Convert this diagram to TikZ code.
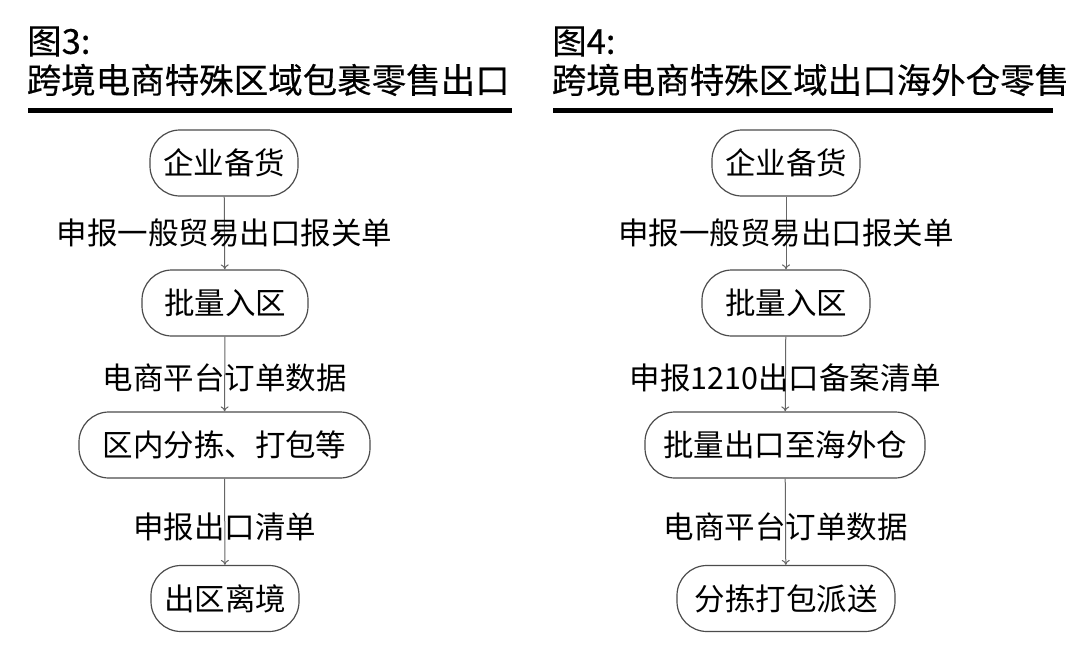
\documentclass[tikz,border=0pt]{standalone}
\usepackage{fontspec}
\setmainfont{Noto Sans CJK SC}
\newfontfamily\titlefont{Noto Sans CJK SC}[FakeBold=0.3]
\usetikzlibrary{arrows.meta}

\tikzset{
  stage/.style={draw=black!70, line width=1.2pt, rounded corners=30pt,
                minimum height=66pt, inner sep=0pt,
                font=\fontsize{30.5}{32}\selectfont},
  flow/.style={draw=black!60, line width=1pt, -{To[length=5pt,width=8pt]}},
  note/.style={inner sep=0pt, font=\fontsize{30.5}{32}\selectfont},
  heading/.style={anchor=west, inner sep=0pt, font=\titlefont\fontsize{34.5}{38}\selectfont},
}

\begin{document}
\begin{tikzpicture}[x=1pt,y=-1pt]
\useasboundingbox[fill=white] (0,0) rectangle (1080,653);

% left figure
\node[heading] (t3a) at (27,41.5) {图3:};
\node[heading] (t3b) at (26.5,80) {跨境电商特殊区域包裹零售出口};
\draw[line width=5pt] (28,110.5) -- (512,110.5);

\node[stage, minimum width=148pt] (l1) at (224,163) {企业备货};
\node[stage, minimum width=166pt] (l2) at (225,303) {批量入区};
\node[stage, minimum width=291pt] (l3) at (224.5,445) {区内分拣、打包等};
\node[stage, minimum width=148pt] (l4) at (225,598.5) {出区离境};

\draw[flow] (l1) -- node[note] (l12) {申报一般贸易出口报关单} (l2);
\draw[flow] (l2) -- node[note, pos=0.55] (l23) {电商平台订单数据} (l3);
\draw[flow] (l3) -- node[note, pos=0.56] (l34) {申报出口清单} (l4);

% right figure
\node[heading] (t4a) at (552,41.5) {图4:};
\node[heading] (t4b) at (551.5,80) {跨境电商特殊区域出口海外仓零售};
\draw[line width=5pt] (553,110.5) -- (1053,110.5);

\node[stage, minimum width=148pt] (r1) at (786,163) {企业备货};
\node[stage, minimum width=168pt] (r2) at (786,303) {批量入区};
\node[stage, minimum width=280pt] (r3) at (785,445) {批量出口至海外仓};
\node[stage, minimum width=218pt] (r4) at (786,598.5) {分拣打包派送};

\draw[flow] (r1) -- node[note] (r12) {申报一般贸易出口报关单} (r2);
\draw[flow] (r2) -- node[note, pos=0.55] (r23) {申报1210出口备案清单} (r3);
\draw[flow] (r3) -- node[note, pos=0.56] (r34) {电商平台订单数据} (r4);
\end{tikzpicture}
\end{document}
